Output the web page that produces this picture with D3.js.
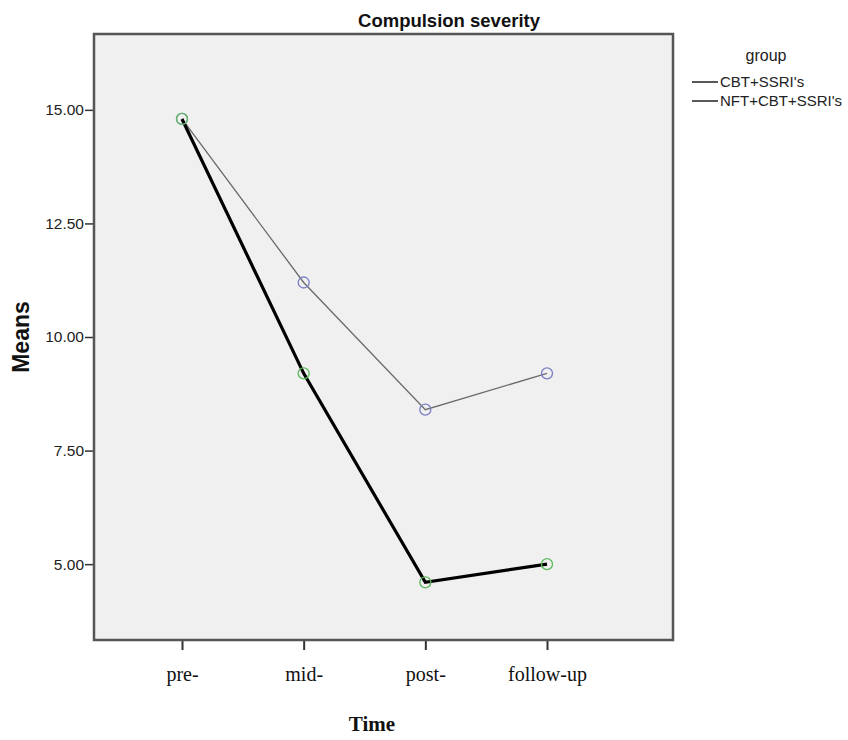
<!DOCTYPE html>
<html>
<head>
<meta charset="utf-8">
<script src="https://cdn.jsdelivr.net/npm/d3@7"></script>
<style>
  body { margin: 0; background: #fff; }
</style>
</head>
<body>
<div id="chart"></div>
<script>
// data
var timePoints = ["pre-", "mid-", "post-", "follow-up"];
var cbtMeans = [14.8, 11.2, 8.4, 9.2];
var nftMeans = [14.8, 9.2, 4.6, 5.0];
var seriesNames = ["CBT+SSRI's", "NFT+CBT+SSRI's"];
var yTicks = [5.0, 7.5, 10.0, 12.5, 15.0];

var svgWidth = 848, svgHeight = 740;
var margin = { top: 34, left: 94, right: 175, bottom: 100 };
var width = svgWidth - margin.left - margin.right;   // 579
var height = svgHeight - margin.top - margin.bottom; // 606

var svg = d3.select("#chart")
    .append("svg")
    .attr("width", svgWidth)
    .attr("height", svgHeight);

var chartGroup = svg.append("g")
    .attr("transform", `translate(${margin.left}, ${margin.top})`);

// scales
var xScale = d3.scalePoint()
    .domain(timePoints)
    .range([88, 453]);

var yScale = d3.scaleLinear()
    .domain([3.33, 16.67])
    .range([height, 0]);

// plot background
chartGroup.append("rect")
    .attr("width", width)
    .attr("height", height)
    .attr("fill", "#f0f0f0");

// axes
var yAxis = d3.axisLeft(yScale)
    .tickValues(yTicks)
    .tickFormat(d3.format(".2f"))
    .tickSize(9)
    .tickPadding(1);

var xAxis = d3.axisBottom(xScale)
    .tickSize(10)
    .tickPadding(17);

var gy = chartGroup.append("g").call(yAxis);
gy.select(".domain").remove();
gy.selectAll("line").attr("stroke", "#333").attr("stroke-width", 1.5);
gy.selectAll("text")
    .attr("font-family", "Liberation Sans, Arial, sans-serif")
    .attr("font-size", "15.5px")
    .attr("fill", "#222");

var gx = chartGroup.append("g")
    .attr("transform", `translate(0, ${height})`)
    .call(xAxis);
gx.select(".domain").remove();
gx.selectAll("line").attr("stroke", "#333").attr("stroke-width", 2);
gx.selectAll("text")
    .attr("font-family", "Liberation Serif, Times New Roman, serif")
    .attr("font-size", "20px")
    .attr("fill", "#111");

// frame
chartGroup.append("rect")
    .attr("width", width)
    .attr("height", height)
    .attr("fill", "none")
    .attr("stroke", "#555")
    .attr("stroke-width", 2.5);

// lines
var line = d3.line()
    .x((d, i) => xScale(timePoints[i]))
    .y(d => yScale(d));

chartGroup.append("path")
    .datum(cbtMeans)
    .attr("d", line)
    .attr("fill", "none")
    .attr("stroke", "#6a6a6a")
    .attr("stroke-width", 1.3);

chartGroup.append("path")
    .datum(nftMeans)
    .attr("d", line)
    .attr("fill", "none")
    .attr("stroke", "#000")
    .attr("stroke-width", 3.2);

// markers
chartGroup.append("g").selectAll("circle")
    .data(cbtMeans)
    .enter()
    .append("circle")
    .attr("cx", (d, i) => xScale(timePoints[i]))
    .attr("cy", d => yScale(d))
    .attr("r", 5.5)
    .attr("fill", "none")
    .attr("stroke", "#7a7fc4")
    .attr("stroke-width", 1.3);

chartGroup.append("g").selectAll("circle")
    .data(nftMeans)
    .enter()
    .append("circle")
    .attr("cx", (d, i) => xScale(timePoints[i]))
    .attr("cy", d => yScale(d))
    .attr("r", 5.5)
    .attr("fill", "none")
    .attr("stroke", "#5cb85c")
    .attr("stroke-width", 1.3);

// title
svg.append("text")
    .attr("x", 449)
    .attr("y", 27)
    .attr("text-anchor", "middle")
    .attr("font-family", "Liberation Sans, Arial, sans-serif")
    .attr("font-weight", "bold")
    .attr("font-size", "18.5px")
    .attr("fill", "#111")
    .text("Compulsion severity");

// axis titles
svg.append("text")
    .attr("transform", "translate(29, 337) rotate(-90)")
    .attr("text-anchor", "middle")
    .attr("font-family", "Liberation Sans, Arial, sans-serif")
    .attr("font-weight", "bold")
    .attr("font-size", "23px")
    .attr("fill", "#111")
    .text("Means");

svg.append("text")
    .attr("x", 372)
    .attr("y", 731)
    .attr("text-anchor", "middle")
    .attr("font-family", "Liberation Serif, Times New Roman, serif")
    .attr("font-weight", "bold")
    .attr("font-size", "21px")
    .attr("fill", "#111")
    .text("Time");

// legend
var legend = svg.append("g");
legend.append("text")
    .attr("x", 766)
    .attr("y", 61)
    .attr("text-anchor", "middle")
    .attr("font-family", "Liberation Sans, Arial, sans-serif")
    .attr("font-size", "16px")
    .attr("fill", "#222")
    .text("group");

seriesNames.forEach(function(name, i) {
    var y = 82 + i * 19;
    legend.append("line")
        .attr("x1", 692).attr("x2", 718)
        .attr("y1", y).attr("y2", y)
        .attr("stroke", "#222")
        .attr("stroke-width", 1.5);
    legend.append("text")
        .attr("x", 720)
        .attr("y", y + 5)
        .attr("font-family", "Liberation Sans, Arial, sans-serif")
        .attr("font-size", "15px")
        .attr("fill", "#222")
        .text(name);
});
</script>
</body>
</html>
